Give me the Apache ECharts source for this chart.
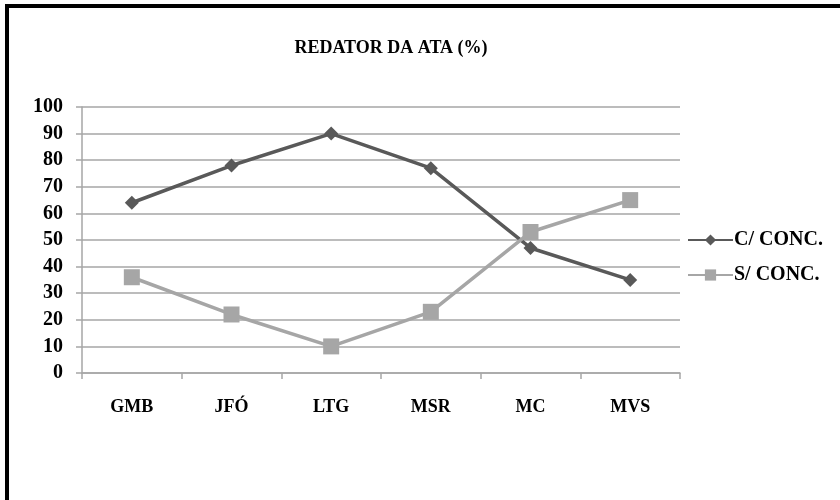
<!DOCTYPE html>
<html>
<head>
<meta charset="utf-8">
<script src="https://cdn.jsdelivr.net/npm/echarts@6/dist/echarts.min.js"></script>
<style>
  body { margin: 0; background: #fff; }
  #frame { position: absolute; left: 5px; top: 4px; width: 840px; height: 500px;
           border-top: 4px solid #000; border-left: 4px solid #000; }
  #chart { position: absolute; left: 0; top: 0; width: 840px; height: 500px; }
</style>
</head>
<body>
<div id="frame"></div>
<div id="chart"></div>
<script>
// dados
var categorias = ['GMB', 'JFÓ', 'LTG', 'MSR', 'MC', 'MVS']
var comConc = [64, 78, 90, 77, 47, 35]
var semConc = [36, 22, 10, 23, 53, 65]

var fonte = 'Liberation Serif, Times New Roman, serif'

var chart = echarts.init(document.getElementById('chart'))
var option = {
  backgroundColor: 'transparent',
  animation: false,
  title: {
    text: 'REDATOR DA ATA (%)',
    left: 386,
    top: 34,
    textAlign: 'center',
    textStyle: { fontFamily: fonte, fontSize: 18, fontWeight: 'bold', color: '#000' }
  },
  legend: {
    orient: 'vertical',
    left: 687,
    top: 230,
    padding: 0,
    itemWidth: 45,
    itemHeight: 14,
    itemGap: 15,
    textStyle: { fontFamily: fonte, fontSize: 20, lineHeight: 20, fontWeight: 'bold', color: '#000', padding: [0, 0, 0, -4] },
    data: ['C/ CONC.', 'S/ CONC.']
  },
  grid: { left: 82, right: 160, top: 107, bottom: 127 },
  xAxis: {
    type: 'category',
    data: categorias,
    boundaryGap: true,
    axisLine: { lineStyle: { color: '#a6a6a6', width: 1.5 } },
    axisTick: { show: true, length: 6, lineStyle: { color: '#a6a6a6', width: 1.5 } },
    axisLabel: { margin: 25, fontFamily: fonte, fontSize: 18, fontWeight: 'bold', color: '#000' }
  },
  yAxis: {
    type: 'value',
    min: 0,
    max: 100,
    interval: 10,
    axisLine: { show: true, lineStyle: { color: '#a6a6a6', width: 1.5 } },
    axisTick: { show: true, length: 6, lineStyle: { color: '#a6a6a6', width: 1.5 } },
    axisLabel: { margin: 19, fontFamily: fonte, fontSize: 20, fontWeight: 'bold', color: '#000' },
    splitLine: { lineStyle: { color: '#a6a6a6', width: 1.5 } }
  },
  series: [
    {
      name: 'C/ CONC.',
      type: 'line',
      data: comConc,
      symbol: 'diamond',
      symbolSize: 14,
      color: '#595959',
      lineStyle: { width: 3.5, color: '#595959' },
      itemStyle: { color: '#595959' }
    },
    {
      name: 'S/ CONC.',
      type: 'line',
      data: semConc,
      symbol: 'rect',
      symbolSize: 16,
      color: '#a6a6a6',
      lineStyle: { width: 3.5, color: '#a6a6a6' },
      itemStyle: { color: '#a6a6a6' }
    }
  ]
}
chart.setOption(option)
</script>
</body>
</html>
